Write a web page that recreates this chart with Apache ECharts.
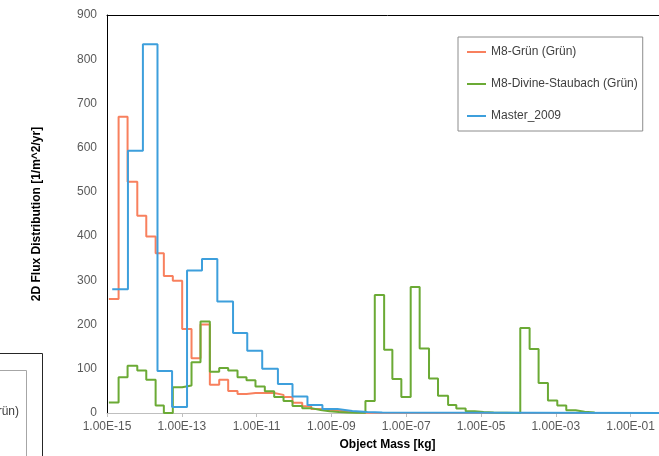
<!DOCTYPE html>
<html>
<head>
<meta charset="utf-8">
<script src="https://cdn.jsdelivr.net/npm/echarts@6/dist/echarts.min.js"></script>
<style>
  html, body { margin: 0; padding: 0; overflow: hidden; background: #fff; }
  #chart { width: 680px; height: 456px; }
</style>
</head>
<body>
<div id="chart"></div>
<script>
  // bin lower edges as log10(mass in kg), last entry closes the last bin
  var tickMasses = [1e-15, 1e-13, 1e-11, 1e-9, 1e-7, 1e-5, 1e-3, 1e-1]

  var gruenExp = [-14.95, -14.69, -14.45, -14.19, -13.95, -13.7, -13.48, -13.24, -12.99, -12.74,
    -12.5, -12.25, -12.0, -11.76, -11.51, -11.27, -11.03, -10.78, -10.53, -10.28,
    -10.04, -9.78, -9.54, -9.29, -9.05, -8.8, -8.56, -8.32, -8.09, 0]
  var gruenFlux = [258, 670, 523, 446, 399, 361, 310, 299, 190, 124,
    200, 64, 75, 50, 43, 45, 45, 45, 41, 36,
    23, 15, 9, 7, 5, 3, 1.5, 0.5, 0, 0]

  var staubachExp = [-14.95, -14.69, -14.45, -14.19, -13.95, -13.7, -13.48, -13.24, -12.99, -12.74,
    -12.5, -12.25, -12.0, -11.76, -11.51, -11.27, -11.03, -10.78, -10.53, -10.28,
    -10.04, -9.78, -9.54, -9.29, -9.05, -8.8, -8.56, -8.32, -8.09, -7.84,
    -7.59, -7.37, -7.13, -6.88, -6.64, -6.39, -6.15, -5.88, -5.66, -5.41,
    -5.17, -4.93, -4.66, -3.95, -3.7, -3.46, -3.21, -2.96, -2.72, -2.47,
    -2.23, -1.96]
  var staubachFlux = [24, 81, 107, 96, 75, 17, 0, 58, 62, 115,
    207, 93, 102, 96, 81, 74, 60, 49, 36, 27,
    16, 11, 7, 4, 2, 1, 0.8, 0.5, 27, 267,
    143, 77, 36, 285, 146, 78, 39, 18, 10, 4,
    2, 1, 0, 192, 145, 68, 28, 17, 6, 3,
    1, 0]

  var masterExp = [-14.86, -14.44, -14.04, -13.65, -13.26, -12.86, -12.46, -12.05, -11.63, -11.25,
    -10.85, -10.43, -10.04, -9.64, -9.24, -8.84, -8.44, -8.04, -7.64, 0]
  var masterFlux = [280, 593, 834, 95, 13.5, 322, 348, 252, 181, 141,
    100, 65.5, 37.5, 18, 9, 4.5, 2, 1, 0, 0]

  var FONT = '"Liberation Sans", Arial, sans-serif'

  function toPoints (exp, flux) {
    return exp.map(function (e, i) { return [Math.pow(10, e), flux[i]] })
  }

  function sci (v) {
    var e = Math.round(Math.log10(v))
    return '1.00E' + (e < 0 ? '-' : '+') + String(Math.abs(e)).padStart(2, '0')
  }

  function stepSeries (name, color, exp, flux) {
    return {
      name: name,
      type: 'line',
      step: 'end',
      symbol: 'none',
      xAxisIndex: 0,
      data: toPoints(exp, flux),
      lineStyle: { width: 2, color: color },
      itemStyle: { color: color }
    }
  }

  var chart = echarts.init(document.getElementById('chart'), null, { renderer: 'canvas' })
  chart.setOption({
    animation: false,
    textStyle: { fontFamily: FONT },
    grid: { left: 107, right: 12, top: 15, bottom: 43 },
    legend: {
      orient: 'vertical',
      left: 458,
      top: 37,
      padding: [9, 5, 9, 9],
      itemGap: 20,
      icon: 'rect',
      itemWidth: 19,
      itemHeight: 2,
      borderColor: '#8c8c8c',
      borderWidth: 1,
      textStyle: { fontSize: 12, color: '#404040', fontFamily: FONT }
    },
    xAxis: [{
      type: 'log',
      logBase: 10,
      min: 1e-15,
      max: 1,
      name: 'Object Mass [kg]',
      nameLocation: 'middle',
      nameGap: 26,
      nameTextStyle: { fontWeight: 'bold', fontSize: 12, color: '#000', fontFamily: FONT },
      axisLine: { lineStyle: { color: '#bfbfbf', width: 1 } },
      axisTick: { show: true, length: 4, customValues: tickMasses, lineStyle: { color: '#bfbfbf' } },
      axisLabel: { customValues: tickMasses, formatter: sci, margin: 8, color: '#595959', fontSize: 12, fontFamily: FONT },
      splitLine: { show: false },
      minorTick: { show: false }
    }, {
      type: 'log',
      logBase: 10,
      min: 1e-15,
      max: 1,
      position: 'top',
      axisLine: { lineStyle: { color: '#000', width: 1 } },
      axisTick: { show: false },
      axisLabel: { show: false },
      splitLine: { show: false }
    }],
    yAxis: {
      type: 'value',
      min: 0,
      max: 900,
      interval: 100,
      name: '2D Flux Distribution [1/m^2/yr]',
      nameLocation: 'middle',
      nameGap: 64,
      nameTextStyle: { fontWeight: 'bold', fontSize: 12, color: '#000', fontFamily: FONT },
      axisLine: { show: true, lineStyle: { color: '#000', width: 1 } },
      axisTick: { show: false },
      axisLabel: { margin: 10, color: '#595959', fontSize: 12, fontFamily: FONT },
      splitLine: { show: false }
    },
    graphic: [
      { type: 'polyline', silent: true, shape: { points: [[-2, 353.5], [42.5, 353.5], [42.5, 460]] }, style: { stroke: '#262626', lineWidth: 1, fill: null } },
      { type: 'polyline', silent: true, shape: { points: [[-2, 370.5], [26.5, 370.5], [26.5, 460]] }, style: { stroke: '#a6a6a6', lineWidth: 1, fill: null } },
      { type: 'text', silent: true, x: 19, y: 412, style: { text: 'M8-Divine-Staubach (Grün)', align: 'right', verticalAlign: 'middle', font: '12px "Liberation Sans", Arial, sans-serif', fill: '#404040' } }
    ],
    series: [
      stepSeries('M8-Grün (Grün)', '#F8805E', gruenExp, gruenFlux),
      stepSeries('M8-Divine-Staubach (Grün)', '#6BAA35', staubachExp, staubachFlux),
      stepSeries('Master_2009', '#3D9FDC', masterExp, masterFlux)
    ]
  })
</script>
</body>
</html>
